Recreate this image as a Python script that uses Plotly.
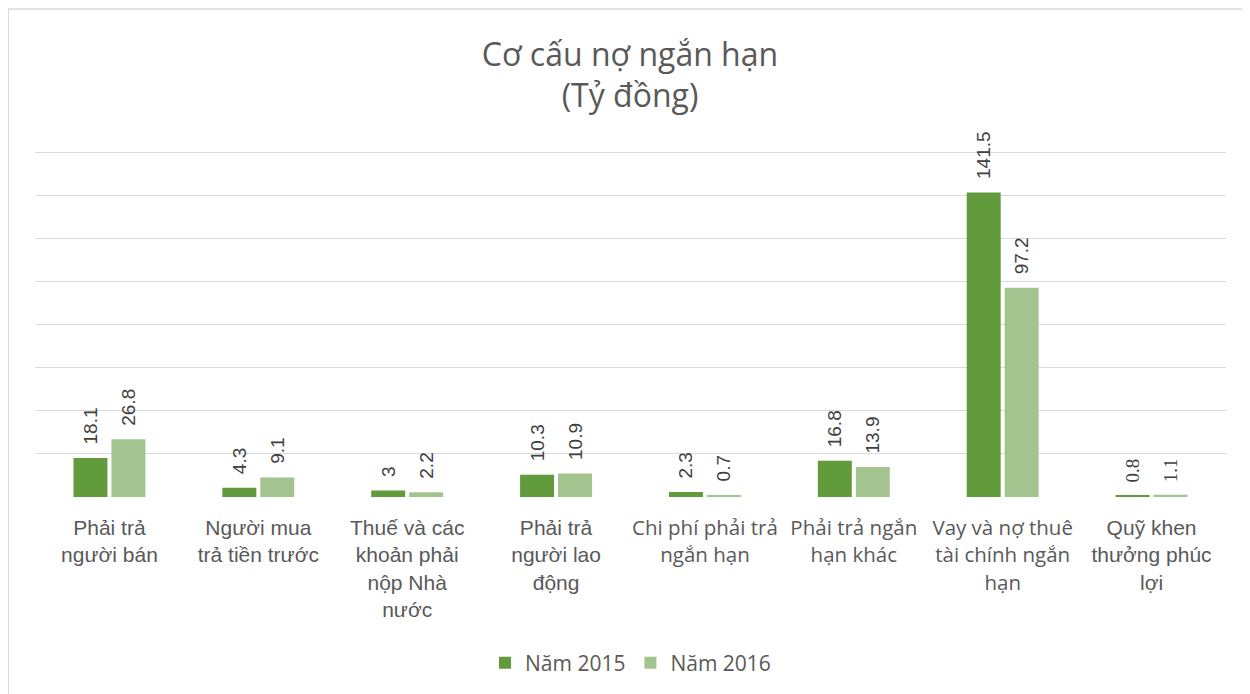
import plotly.graph_objects as go

CALIBRI = "Open Sans, Noto Sans, sans-serif"
ARIAL = "Liberation Sans, Arial, sans-serif"

categories = [
    "Phải trả<br>người bán",
    "Người mua<br>trả tiền trước",
    "Thuế và các<br>khoản phải<br>nộp Nhà<br>nước",
    "Phải trả<br>người lao<br>động",
    "Chi phí phải trả<br>ngắn hạn",
    "Phải trả ngắn<br>hạn khác",
    "Vay và nợ thuê<br>tài chính ngắn<br>hạn",
    "Quỹ khen<br>thưởng phúc<br>lợi",
]
# a few labels in the source use a different (Calibri-like) face
calibri_labels = [False, False, False, False, True, True, True, False]
values_2015 = [18.1, 4.3, 3, 10.3, 2.3, 16.8, 141.5, 0.8]
values_2016 = [26.8, 9.1, 2.2, 10.9, 0.7, 13.9, 97.2, 1.1]
grid_vals = [0, 20, 40, 60, 80, 100, 120, 140, 160]
label_fonts = [ARIAL] * 7 + ["Liberation Serif, serif"]

tick_text = []
for lab, cal in zip(categories, calibri_labels):
    if cal:
        lab = "<br>".join(f'<span style="font-family:{CALIBRI};font-size:20.5px">{p}</span>'
                          for p in lab.split("<br>"))
    tick_text.append(lab)

x_idx = list(range(len(categories)))

# the page has an 8px body margin, so everything is offset by it
fig = go.Figure()
for name, vals, color in [("Năm 2015", values_2015, "#629B3C"),
                          ("Năm 2016", values_2016, "#A3C48F")]:
    fig.add_trace(go.Bar(
        x=x_idx, y=vals, name=name, marker=dict(color=color, line_width=0),
        text=["\u00a0\u00a0" + f"{v:g}" for v in vals],
        textposition="outside", textangle=-90, cliponaxis=False,
        constraintext="none",
        textfont=dict(family=label_fonts, size=19, color="#404040"),
    ))

fig.update_xaxes(tickmode="array", tickvals=x_idx, ticktext=tick_text,
                 tickfont=dict(family=ARIAL, size=21, color="#595959"),
                 showgrid=False, showline=False, zeroline=False, ticks="",
                 ticklabelstandoff=16)
fig.update_yaxes(range=[0, 165], tickvals=grid_vals, showticklabels=False,
                 gridcolor="#D9D9D9", gridwidth=1, zeroline=False, showline=False)

fig.update_layout(
    width=1250, height=694, autosize=False,
    paper_bgcolor="white", plot_bgcolor="white",
    barmode="group", bargap=0.49, bargroupgap=0.105,
    margin=dict(l=27, r=32, t=134, b=205),
    title=dict(text="Cơ cấu nợ ngắn hạn<br>(Tỷ đồng)", x=0.4976, xanchor="center",
               y=0.917, yanchor="top", yref="container",
               font=dict(family=CALIBRI, size=32, color="#595959")),
    legend=dict(orientation="h", x=0.5, xanchor="center", y=-0.468, yanchor="middle",
                font=dict(family=CALIBRI, size=21, color="#595959"),
                itemwidth=30, traceorder="normal"),
    showlegend=True,
    shapes=[
        dict(type="line", xref="paper", yref="paper", x0=-0.0225, x1=-0.0225,
             y0=-0.65, y1=1.3746, line=dict(color="#D9D9D9", width=1.5)),
        dict(type="line", xref="paper", yref="paper", x0=-0.0225, x1=1.05,
             y0=1.3746, y1=1.3746, line=dict(color="#D9D9D9", width=1.5)),
    ],
)

fig.write_html("out.html")
